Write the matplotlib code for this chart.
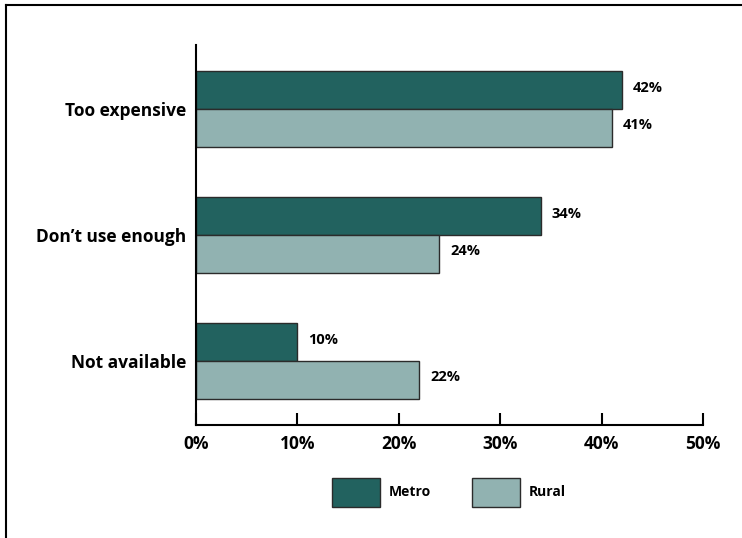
import matplotlib.pyplot as plt
from matplotlib.patches import Patch
from matplotlib.lines import Line2D

plt.rcParams['font.family'] = ['Open Sans', 'DejaVu Sans']
plt.rcParams['font.weight'] = 'bold'

categories = ['Too expensive', 'Don\u2019t use enough', 'Not available']
metro = [42, 34, 10]
rural = [41, 24, 22]
series_names = ['Metro', 'Rural']
ticks = [0, 10, 20, 30, 40, 50]

metro_color = '#22625F'
rural_color = '#91B2B1'
edge = '#2b2b2b'

fig = plt.figure(figsize=(7.42, 5.38), dpi=100)
ax = fig.add_axes([0.2642, 0.2100, 0.6833, 0.7064])

pos = list(range(len(categories)))
h = 0.30
ax.barh([p - h / 2 for p in pos], metro, height=h, color=metro_color,
        edgecolor=edge, linewidth=1)
ax.barh([p + h / 2 for p in pos], rural, height=h, color=rural_color,
        edgecolor=edge, linewidth=1)

# value labels just right of each bar
for p, m, r in zip(pos, metro, rural):
    ax.text(m + 1.1, p - h / 2 - 0.02, f'{m}%', va='center', ha='left',
            fontsize=10.5, fontweight='bold')
    ax.text(r + 1.1, p + h / 2 - 0.02, f'{r}%', va='center', ha='left',
            fontsize=10.5, fontweight='bold')

ax.set_xlim(0, 50)
ax.set_ylim(2.508, -0.508)
ax.set_xticks(ticks)
ax.set_xticklabels([f'{t}%' for t in ticks], fontsize=12.5, fontweight='bold')
ax.set_yticks(pos)
ax.set_yticklabels(categories, fontsize=12.5, fontweight='bold')
ax.tick_params(axis='x', direction='in', length=9, width=1.5, pad=7)
ax.tick_params(axis='y', length=0, pad=7)

for s in ['top', 'right']:
    ax.spines[s].set_visible(False)
for s in ['left', 'bottom']:
    ax.spines[s].set_linewidth(1.5)

handles = [Patch(facecolor=metro_color, edgecolor=edge, linewidth=1),
           Patch(facecolor=rural_color, edgecolor=edge, linewidth=1)]
fig.legend(handles, series_names, loc='center', bbox_to_anchor=(0.605, 0.085),
           ncol=2, frameon=False, handlelength=3.45, handleheight=2.8,
           handletextpad=0.65, columnspacing=2.95,
           prop={'weight': 'bold', 'size': 10})

# outer frame along top and left
fig.add_artist(Line2D([0.0081, 0.0081], [0.0, 0.9907], transform=fig.transFigure,
                      color='black', linewidth=1.5))
fig.add_artist(Line2D([0.0081, 1.0], [0.9907, 0.9907], transform=fig.transFigure,
                      color='black', linewidth=1.5))

fig.savefig('out.png', dpi=100)
